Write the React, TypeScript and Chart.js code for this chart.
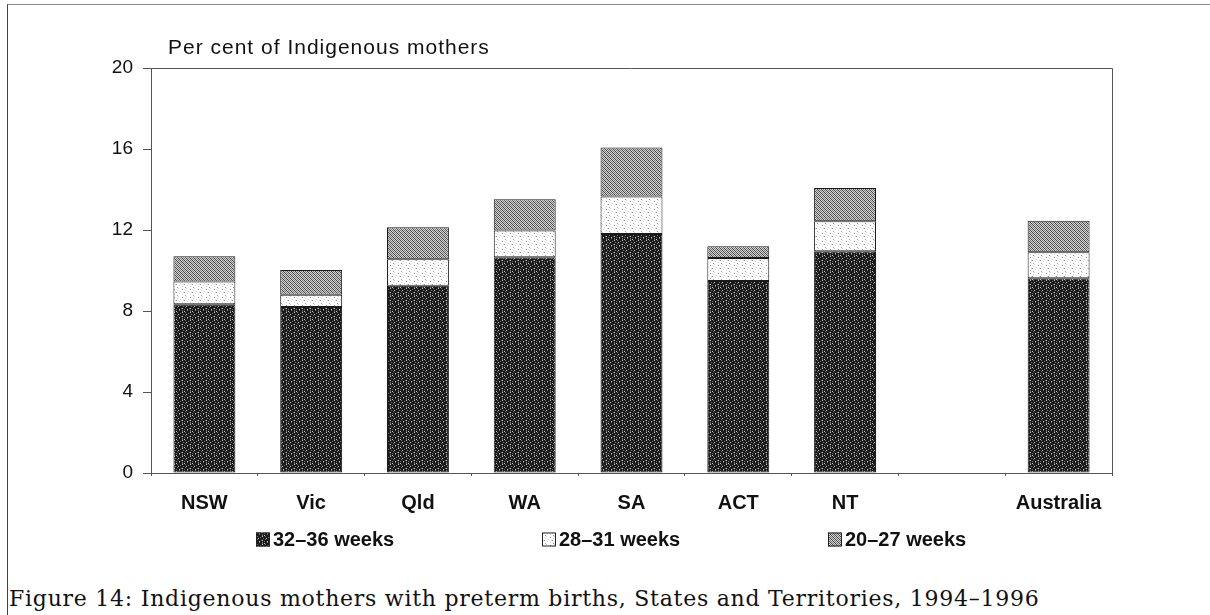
import React, { useEffect, useRef } from 'react';
import { Chart, registerables } from 'chart.js';

Chart.register(...registerables);

// ---- data ----
const categories = ['NSW', 'Vic', 'Qld', 'WA', 'SA', 'ACT', 'NT', '', 'Australia'];
const weeks32to36 = [8.33, 8.2, 9.25, 10.66, 11.8, 9.48, 10.95, null, 9.62];
const weeks28to31 = [1.13, 0.6, 1.31, 1.31, 1.86, 1.14, 1.48, null, 1.28];
const weeks20to27 = [1.24, 1.23, 1.57, 1.55, 2.41, 0.58, 1.64, null, 1.56];
const seriesLabels = ['32–36 weeks', '28–31 weeks', '20–27 weeks'];
const yTicks = [0, 4, 8, 12, 16, 20];
const yAxisTitle = 'Per cent of Indigenous mothers';
const caption = 'Figure 14: Indigenous mothers with preterm births, States and Territories, 1994–1996';

// ---- textures ----
const darkTile = [
  '#+####.#',
  '####+###',
  '##.####+',
  '#+######',
  '#####+.#',
  '+##.####',
  '###+##+#',
  '.#####+#',
];
const darkColors: Record<string, string> = { '#': '#1a1a1a', '+': '#6e6e6e', '.': '#c8c8c8' };
const lightTile = [
  '..+.....',
  '......#.',
  '.+......',
  '....+...',
  '#......+',
  '...+....',
  '......+.',
  '.#......',
];
const lightColors: Record<string, string> = { '.': '#ffffff', '+': '#cfcfcf', '#': '#8a8a8a' };
const midTile = ['#.+.', '.#.+', '+.#.', '.+.#'];
const midColors: Record<string, string> = { '#': '#444444', '+': '#7a7a7a', '.': '#d2d2d2' };

function makePattern(rows: string[], colors: Record<string, string>): CanvasPattern | string {
  const c = document.createElement('canvas');
  c.width = rows[0].length;
  c.height = rows.length;
  const ctx = c.getContext('2d');
  if (!ctx) return '#888';
  rows.forEach((row, y) => {
    row.split('').forEach((ch, x) => {
      ctx.fillStyle = colors[ch];
      ctx.fillRect(x, y, 1, 1);
    });
  });
  const p = ctx.createPattern(c, 'repeat');
  return p || '#888';
}

const SANS = '"Liberation Sans", Arial, Helvetica, sans-serif';

export default function App() {
  const ref = useRef<HTMLCanvasElement | null>(null);

  useEffect(() => {
    if (!ref.current) return;
    const patterns = [
      makePattern(darkTile, darkColors),
      makePattern(lightTile, lightColors),
      makePattern(midTile, midColors),
    ];
    const seriesData = [weeks32to36, weeks28to31, weeks20to27];

    const decor = {
      id: 'decor',
      afterDraw(chart: any) {
        const ctx: CanvasRenderingContext2D = chart.ctx;
        const a = chart.chartArea;
        ctx.save();
        // plot frame (top + right)
        ctx.strokeStyle = '#555';
        ctx.lineWidth = 1;
        ctx.beginPath();
        ctx.moveTo(a.left, a.top + 0.5);
        ctx.lineTo(a.right + 0.5, a.top + 0.5);
        ctx.lineTo(a.right + 0.5, a.bottom);
        ctx.stroke();
        // axis title
        ctx.fillStyle = '#111';
        ctx.font = '21px ' + SANS;
        (ctx as any).letterSpacing = '1px';
        ctx.textAlign = 'left';
        ctx.textBaseline = 'alphabetic';
        ctx.fillText(yAxisTitle, a.left + 17, a.top - 14);
        (ctx as any).letterSpacing = '0px';
        // legend
        const cx = chart.width / 2 + 9.5;
        const step = 286;
        const ly = 531.5;
        ctx.font = 'bold 20px ' + SANS;
        ctx.textBaseline = 'middle';
        seriesLabels.forEach((lab, i) => {
          const bx = Math.round(cx - 358.5 + step * i);
          ctx.fillStyle = patterns[i] as any;
          ctx.fillRect(bx, ly - 7, 14, 14);
          ctx.strokeStyle = '#222';
          ctx.strokeRect(bx + 0.5, ly - 7 + 0.5, 13, 13);
          ctx.fillStyle = '#111';
          ctx.fillText(lab, bx + 17, ly + 1);
        });
        ctx.restore();
      },
    };

    const chart = new Chart(ref.current, {
      type: 'bar',
      data: {
        labels: categories,
        datasets: seriesLabels.map((lab, i) => ({
          label: lab,
          data: seriesData[i] as any,
          backgroundColor: patterns[i] as any,
          borderColor: '#1a1a1a',
          borderWidth: 1,
          borderSkipped: false,
          barPercentage: 0.58,
          categoryPercentage: 1,
          stack: 's',
        })),
      },
      options: {
        responsive: false,
        animation: false,
        devicePixelRatio: 1,
        layout: { padding: { left: 0, right: 90, top: 60, bottom: 45 } },
        plugins: {
          legend: { display: false },
          tooltip: { enabled: false },
          title: { display: false },
        },
        scales: {
          x: {
            stacked: true,
            afterFit: (s: any) => { s.height = 50; },
            grid: { display: true, offset: true, drawOnChartArea: false, drawTicks: true, tickLength: 3, color: '#555' },
            border: { display: true, color: '#555', width: 1 },
            ticks: {
              color: '#111',
              padding: 15,
              maxRotation: 0,
              autoSkip: false,
              font: { family: SANS, size: 20, weight: 'bold' },
            },
          },
          y: {
            stacked: true,
            min: 0,
            max: 20,
            afterFit: (s: any) => { s.width = 143; },
            afterBuildTicks: (s: any) => { s.ticks = yTicks.map((v) => ({ value: v })); },
            grid: { display: true, drawOnChartArea: false, drawTicks: true, tickLength: 8, color: '#555' },
            border: { display: true, color: '#555', width: 1 },
            ticks: {
              color: '#111',
              padding: 10,
              font: { family: SANS, size: 19 },
            },
          },
        },
      },
      plugins: [decor],
    });
    return () => chart.destroy();
  }, []);

  return (
    <div style={{ position: 'fixed', left: 0, top: 0, width: 1210, height: 615, overflow: 'hidden', background: '#fff' }}>
      <div
        style={{
          position: 'absolute', left: 7, top: 4, width: 1400, height: 800,
          borderTop: '1px solid #8a8a8a', borderLeft: '1px solid #444',
        }}
      />
      <canvas
        ref={ref}
        width={1194}
        height={560}
        style={{ position: 'absolute', left: 8, top: 8, width: 1194, height: 560 }}
      />
      <div
        style={{
          position: 'absolute', left: 9, top: 586, whiteSpace: 'nowrap',
          fontFamily: '"DejaVu Serif", serif', fontSize: 22, lineHeight: '26px',
          letterSpacing: '0.75px', color: '#111',
        }}
      >
        {caption}
      </div>
    </div>
  );
}
